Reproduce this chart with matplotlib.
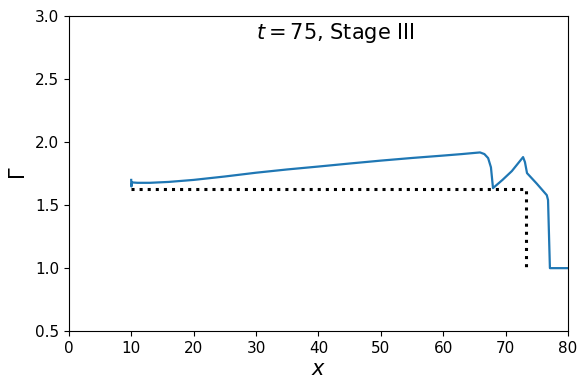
import numpy as np
import matplotlib
matplotlib.use("Agg")
from matplotlib import pyplot as plt

# Gamma profile
x = [10.0, 10.03, 10.15, 11, 13, 16, 20, 25, 30, 35, 40, 45, 50, 55, 60, 63, 65, 65.9,
     66.6, 67.2, 67.65, 67.98, 69.5, 71, 72.3, 72.8, 73.1, 73.43, 75, 76.6, 76.8, 77.1, 80]
gamma = [1.70, 1.648, 1.68, 1.677, 1.677, 1.684, 1.700, 1.727, 1.757, 1.783, 1.806, 1.830,
         1.853, 1.874, 1.893, 1.905, 1.914, 1.918, 1.905, 1.873, 1.80, 1.635, 1.70, 1.77,
         1.85, 1.881, 1.841, 1.754, 1.67, 1.579, 1.54, 1.0, 1.0]

# dotted reference line
ref_x = [10, 73.2, 73.2]
ref_y = [1.625, 1.625, 1.0]

fig, ax = plt.subplots(figsize=(5.88, 3.91), dpi=100)
fig.subplots_adjust(left=0.117, right=0.966, top=0.959, bottom=0.153)

ax.plot(x, gamma, color='#1f77b4', lw=1.6)
ax.plot(ref_x, ref_y, color='black', ls=':', lw=2.2)

ax.set_xlim(0, 80)
ax.set_ylim(0.5, 3.0)
ax.set_xlabel('$x$', fontsize=15, labelpad=2)
ax.set_ylabel(r'$\Gamma$', fontsize=15)
ax.tick_params(labelsize=11)
ax.text(30, 2.865, '$t = 75$, Stage III', ha='left', va='center', fontsize=15)

plt.savefig('out.png')
